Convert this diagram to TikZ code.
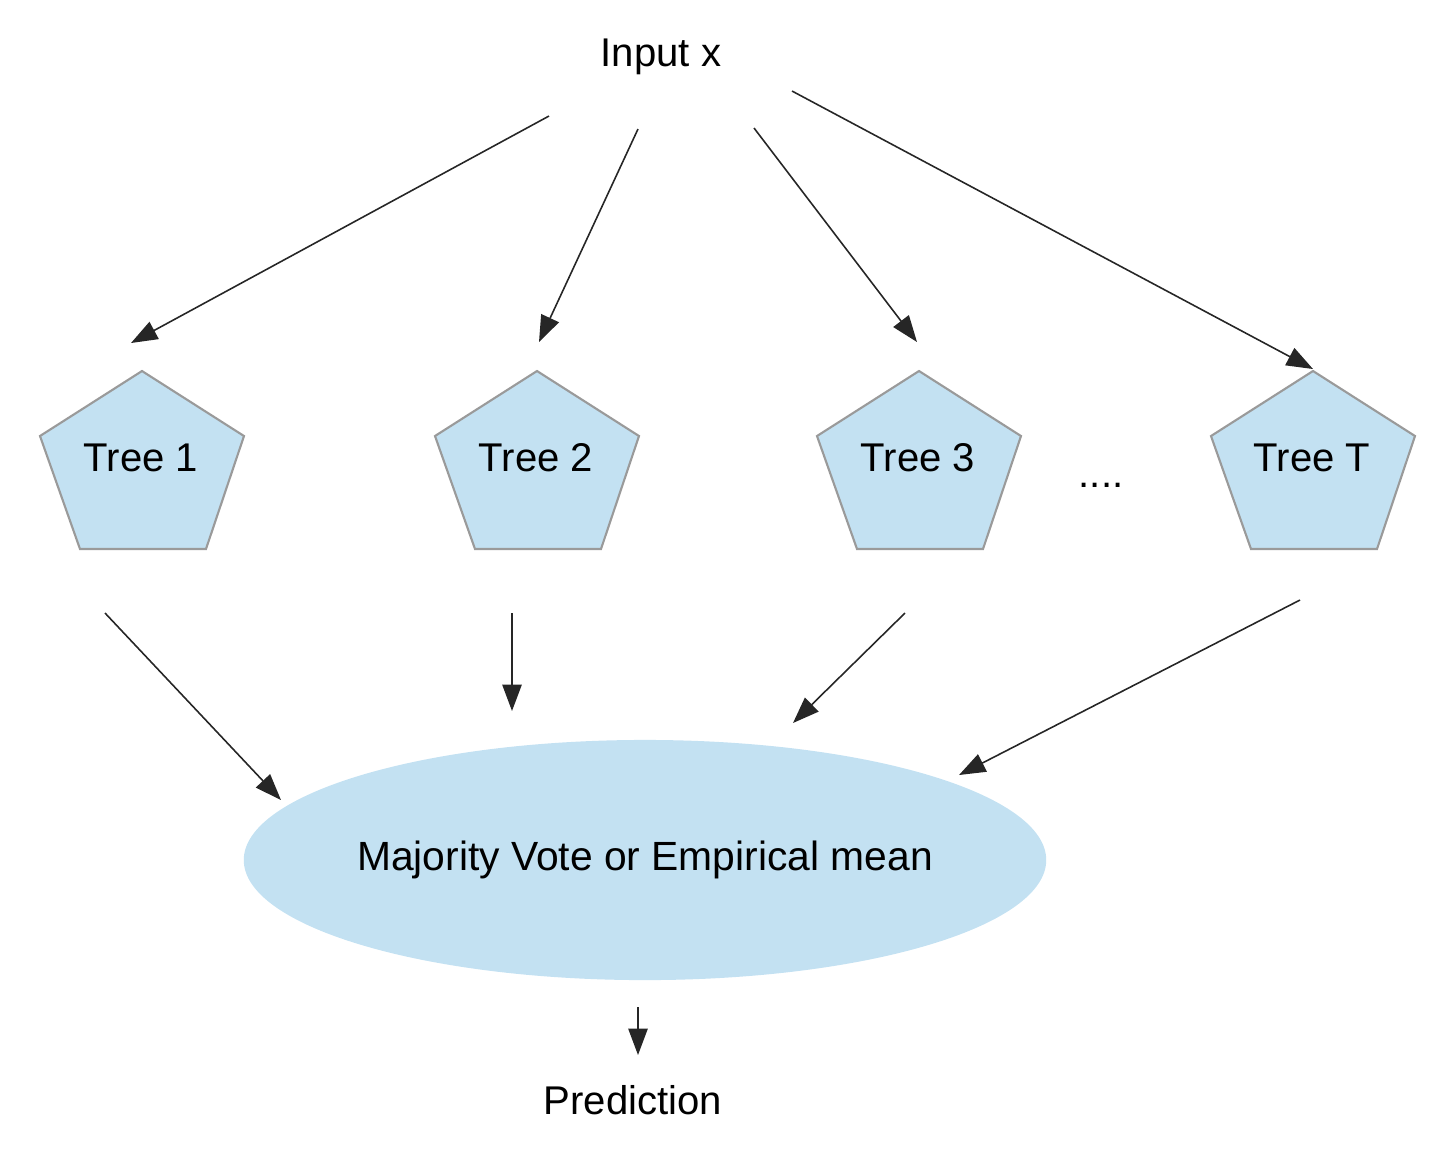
\documentclass[tikz,border=0pt]{standalone}
\usepackage{fontspec}
\setmainfont{Liberation Sans}
\usetikzlibrary{arrows.meta,shapes.geometric}
\definecolor{treeblue}{HTML}{C3E1F2}
\definecolor{treeedge}{HTML}{9A9A9A}

\begin{document}
\begin{tikzpicture}[x=0.01cm,y=-0.01cm,
                    >={Triangle[length=7.5pt,width=5.5pt]},
                    every node/.style={font=\fontsize{11.4}{13.7}\selectfont,text=black},
                    vote arrow/.style={->,draw=black!85,line width=0.45pt}]
  \tikzstyle{treeshape}=[fill=treeblue,draw=treeedge,line width=0.6pt]
  \useasboundingbox (0,0) rectangle (1442,1150);

  \node (input) at (661,57) {Input x};

  \foreach \n/\x/\l in {t1/142/Tree 1,t2/537/Tree 2,t3/919/Tree 3,tT/1313/Tree T}{
    \filldraw[treeshape] (\x,371) -- (\x+102,436) -- (\x+64,549) -- (\x-62,549) -- (\x-102,436) -- cycle;
    \node (\n) at (\x-1,458) {\l};
  }
  \node (dots) at (1101,485) {....};

  \node[ellipse,fill=treeblue,inner sep=0pt,outer sep=0pt,minimum width=8.02cm,minimum height=2.4cm,
        label={[font=\fontsize{11.6}{13.9}\selectfont]center:Majority Vote or Empirical mean}] (vote) at (645,860) {};

  \node (pred) at (633,1100) {Prediction};

  \coordinate (a1) at (549,116);  \coordinate (b1) at (131,343);
  \coordinate (a2) at (638,129);  \coordinate (b2) at (539,342);
  \coordinate (a3) at (754,128);  \coordinate (b3) at (917,342);
  \coordinate (a4) at (792,91);   \coordinate (b4) at (1313,369);
  \coordinate (c1) at (105,613);  \coordinate (d1) at (281,800);
  \coordinate (c2) at (512,613);  \coordinate (d2) at (512,711);
  \coordinate (c3) at (905,613);  \coordinate (d3) at (793,723);
  \coordinate (c4) at (1300,600); \coordinate (d4) at (959,775);
  \coordinate (e1) at (638,1007); \coordinate (e2) at (638,1055);

  \foreach \i in {1,...,4}{
    \draw[vote arrow] (a\i) -- (b\i);
    \draw[vote arrow] (c\i) -- (d\i);
  }
  \draw[vote arrow] (e1) -- (e2);
\end{tikzpicture}
\end{document}
